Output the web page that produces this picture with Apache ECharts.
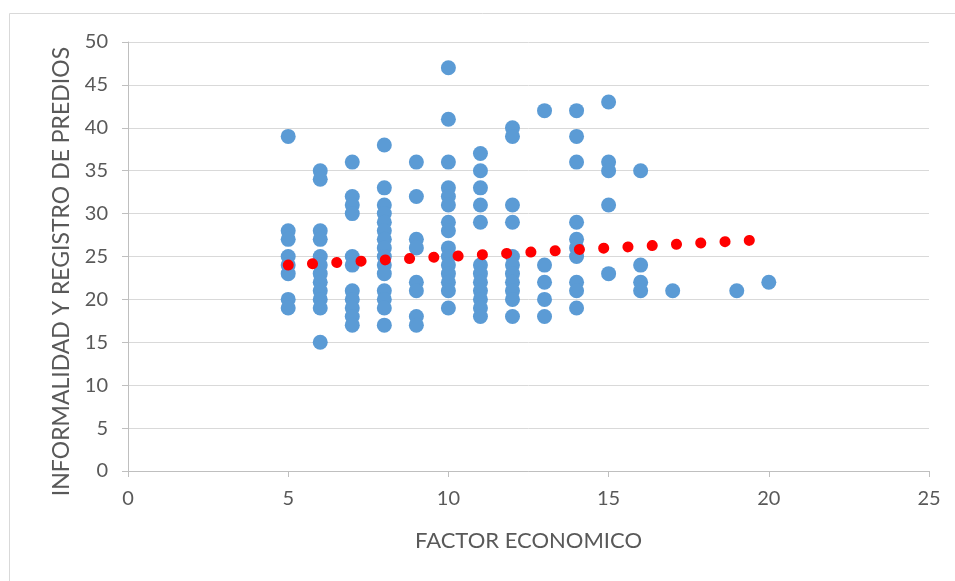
<!DOCTYPE html>
<html>
<head>
<meta charset="utf-8">
<script src="https://cdn.jsdelivr.net/npm/echarts@6/dist/echarts.min.js"></script>
<style>
  html, body { margin: 0; padding: 0; background: #fff; }
  #chart { width: 955px; height: 581px; }
</style>
</head>
<body>
<div id="chart"></div>
<script>
// values, one array per x column
var y5 = [39, 28, 27, 25, 24, 23, 20, 19]
var y6 = [35, 34, 28, 27, 25, 24, 23, 22, 21, 20, 19, 15]
var y7 = [36, 32, 31, 30, 25, 24, 21, 20, 19, 18, 17]
var y8 = [38, 33, 31, 30, 29, 28, 27, 26, 25, 24, 23, 21, 20, 19, 17]
var y9 = [36, 32, 27, 26, 22, 21, 18, 17]
var y10 = [47, 41, 36, 33, 32, 31, 29, 28, 26, 25, 24, 23, 22, 21, 19]
var y11 = [37, 35, 33, 31, 29, 24, 23, 22, 21, 20, 19, 18]
var y12 = [40, 39, 31, 29, 25, 24, 23, 22, 21, 20, 18]
var y13 = [42, 24, 22, 20, 18]
var y14 = [42, 39, 36, 29, 27, 26, 25, 22, 21, 19]
var y15 = [43, 36, 35, 31, 23]
var y16 = [35, 24, 22, 21]
var y17 = [21]
var y19 = [21]
var y20 = [22]

var columnX = [5, 6, 7, 8, 9, 10, 11, 12, 13, 14, 15, 16, 17, 19, 20]
var columnY = [y5, y6, y7, y8, y9, y10, y11, y12, y13, y14, y15, y16, y17, y19, y20]

// linear trendline ends
var trendX = [5, 20]
var trendY = [24.0, 27.0]

var xTicks = [0, 5, 10, 15, 20, 25]
var yTicks = [0, 5, 10, 15, 20, 25, 30, 35, 40, 45, 50]

var points = []
columnX.forEach(function (x, i) {
    columnY[i].forEach(function (y) { points.push([x, y]) })
})
var trend = trendX.map(function (x, i) { return [x, trendY[i]] })

var font = 'Lato'
var grey = '#595959'

var chart = echarts.init(document.getElementById('chart'))
var option = {
    animation: false,
    graphic: [{
        type: 'rect',
        shape: { x: 9.5, y: 13.5, width: 1200, height: 1200 },
        style: { fill: 'none', stroke: '#d9d9d9', lineWidth: 1 },
        silent: true
    }],
    grid: { left: 128, right: 26, top: 42, bottom: 110 },
    xAxis: {
        type: 'value',
        min: xTicks[0],
        max: xTicks[xTicks.length - 1],
        interval: 5,
        name: 'FACTOR ECONOMICO',
        nameLocation: 'middle',
        nameGap: 59,
        nameTextStyle: { fontFamily: font, fontSize: 22, color: grey },
        axisLine: { show: true, lineStyle: { color: '#bfbfbf', width: 1 } },
        axisTick: { show: true, length: 6, lineStyle: { color: '#bfbfbf' } },
        axisLabel: { margin: 18, fontFamily: font, fontSize: 20, color: grey },
        splitLine: { show: false }
    },
    yAxis: {
        type: 'value',
        min: yTicks[0],
        max: yTicks[yTicks.length - 1],
        interval: 5,
        name: 'INFORMALIDAD Y REGISTRO DE PREDIOS',
        nameLocation: 'middle',
        nameGap: 55,
        // pushes the title a bit lower, as in the picture
        nameTextStyle: { fontFamily: font, fontSize: 23, color: grey, padding: [0, 30, 0, 0] },
        axisLine: { show: true, lineStyle: { color: '#bfbfbf', width: 1 } },
        axisTick: { show: true, length: 6, lineStyle: { color: '#bfbfbf' } },
        axisLabel: { margin: 20, fontFamily: font, fontSize: 20, color: grey },
        splitLine: { show: true, lineStyle: { color: '#d9d9d9', width: 1 } }
    },
    series: [{
        type: 'scatter',
        data: points,
        symbolSize: 15,
        itemStyle: { color: '#5b9bd5', opacity: 1 },
        z: 2
    }, {
        type: 'line',
        data: trend,
        showSymbol: false,
        symbol: 'none',
        lineStyle: { color: '#ff0000', width: 11, type: [0.1, 24.2], cap: 'round' },
        z: 3
    }]
}
chart.setOption(option)
</script>
</body>
</html>
